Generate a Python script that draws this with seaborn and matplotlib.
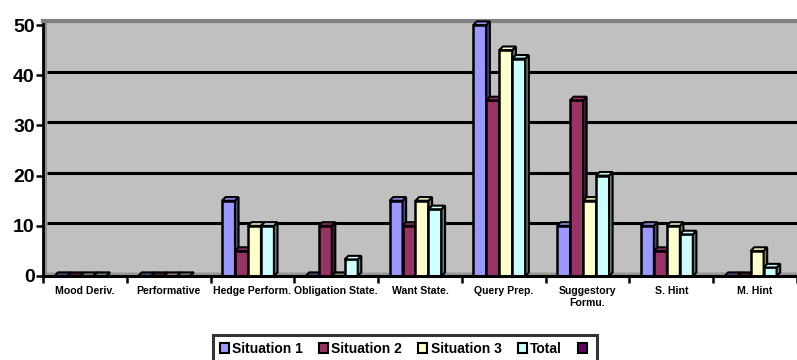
import matplotlib
matplotlib.use("Agg")
import matplotlib.pyplot as plt
import matplotlib.transforms as mtransforms
from matplotlib.patches import Polygon, Patch, Rectangle
import numpy as np
import pandas as pd
import seaborn as sns

plt.rcParams["font.family"] = ["Liberation Sans", "DejaVu Sans"]

# ---- data -------------------------------------------------------------
categories = ["Mood Deriv.", "Performative", "Hedge Perform.", "Obligation State.",
              "Want State.", "Query Prep.", "Suggestory\nFormu.", "S. Hint", "M. Hint"]
situation_1 = [0, 0, 15, 0, 15, 50, 10, 10, 0]
situation_2 = [0, 0, 5, 10, 10, 35, 35, 5, 0]
situation_3 = [0, 0, 10, 0, 15, 45, 15, 10, 5]
total = [0, 0, 10, 3.3, 13.3, 43.3, 20, 8.3, 1.7]
series_names = ["Situation 1", "Situation 2", "Situation 3", "Total"]
y_ticks = [0, 10, 20, 30, 40, 50]

face_colors = ["#9999FF", "#993366", "#FFFFCC", "#CCFFFF"]
side_colors = ["#4D4D80", "#4D1A33", "#808066", "#668080"]
extra_legend_color = "#660066"

df = pd.DataFrame({
    "category": categories * 4,
    "series": sum([[n] * len(categories) for n in series_names], []),
    "value": situation_1 + situation_2 + situation_3 + total,
})

# ---- figure -----------------------------------------------------------
W, H = 797, 360
fig = plt.figure(figsize=(W / 100, H / 100), dpi=100)
ax_left, ax_right, ax_bottom, ax_top = 43, 797, 276, 21
ax = fig.add_axes([ax_left / W, (H - ax_bottom) / H,
                   (ax_right - ax_left) / W, (ax_bottom - ax_top) / H])

px_per_unit_y = (276 - 25) / 50.0
ymax = 50 + (25 - ax_top) / px_per_unit_y
ax.set_facecolor("#C0C0C0")

sns.barplot(data=df, x="category", y="value", hue="series",
            order=categories, hue_order=series_names, palette=face_colors,
            saturation=1, width=0.62, edgecolor="black", linewidth=1.8,
            legend=False, ax=ax, errorbar=None)
ax.set_xlim(-0.5, len(categories) - 0.5)
ax.set_ylim(0, ymax)

# depth of the pseudo-3D extrusion, in data units
depth_px = 3.6
px_per_unit_x = (ax_right - ax_left) / len(categories)
dx = depth_px / px_per_unit_x
dy = depth_px / px_per_unit_y
shift = 4.5 / px_per_unit_x

for k, container in enumerate(ax.containers):
    z = 3 + k
    for bar in container:
        bar.set_x(bar.get_x() - shift)
        bar.set_zorder(z)
        x0 = bar.get_x()
        x1 = x0 + bar.get_width()
        h = bar.get_height()
        fc_top = face_colors[k] if h > 0 else side_colors[k]
        top = Polygon([(x0, h), (x0 + dx, h + dy), (x1 + dx, h + dy), (x1, h)],
                      closed=True, facecolor=fc_top, edgecolor="black",
                      linewidth=1.5, zorder=z, clip_on=False)
        side = Polygon([(x1, 0), (x1 + dx, dy), (x1 + dx, h + dy), (x1, h)],
                       closed=True, facecolor=side_colors[k], edgecolor="black",
                       linewidth=1.5, zorder=z, clip_on=False)
        ax.add_patch(side)
        ax.add_patch(top)

# walls and floor
ax.add_patch(Polygon([(-0.5, 0), (-0.5 + dx, dy), (len(categories) - 0.5 + dx, dy),
                      (len(categories) - 0.5, 0)], closed=True,
                     facecolor="#9A9A9A", edgecolor="none", zorder=1.2))
ax.add_patch(Rectangle((-0.5, 0), dx, ymax, facecolor="#8C8C8C",
                       edgecolor="none", zorder=1.2))

# gridlines on the back wall
grid_trans = ax.get_yaxis_transform() + mtransforms.ScaledTranslation(
    0, 3 / 100, fig.dpi_scale_trans)
for v in y_ticks[1:-1]:
    ax.plot([depth_px / (ax_right - ax_left), 1], [v, v], transform=grid_trans,
            color="black", linewidth=2.2, zorder=1.5, solid_capstyle="butt")

# spines
ax.spines["right"].set_visible(False)
ax.spines["top"].set_color("#808080")
ax.spines["top"].set_linewidth(3)
ax.spines["left"].set_color("black")
ax.spines["left"].set_linewidth(2)
ax.spines["bottom"].set_color("black")
ax.spines["bottom"].set_linewidth(2.2)
ax.spines["bottom"].set_zorder(10)

# axes ticks and labels
ax.set_xlabel("")
ax.set_ylabel("")
ax.set_yticks(y_ticks)
ax.set_yticklabels([str(t) for t in y_ticks], fontsize=14, fontweight="bold")
ax.tick_params(axis="y", direction="out", length=5, width=1.8, pad=1, colors="black")
ax.set_xticks(range(len(categories)))
ax.set_xticklabels(categories, fontsize=7.6, fontweight="bold", linespacing=1.3)
ax.tick_params(axis="x", which="major", length=0, pad=7)
ax.set_xticks(np.arange(-0.5, len(categories), 1), minor=True)
ax.tick_params(axis="x", which="minor", direction="out", length=5, width=1.8)

# legend
handles = [Patch(facecolor=c, edgecolor="black", linewidth=1.5) for c in face_colors]
handles.append(Patch(facecolor=extra_legend_color, edgecolor="black", linewidth=1.5))
labels = series_names + [""]
leg = fig.legend(handles, labels, loc="upper center",
                 bbox_to_anchor=(405 / W, 1 - 335 / H), ncol=5, frameon=True,
                 fancybox=False, edgecolor="black",
                 prop={"weight": "bold", "size": 10},
                 handlelength=0.65, handleheight=0.65, handletextpad=0.25,
                 columnspacing=1.15, borderpad=0.5, borderaxespad=0)
leg.get_frame().set_linewidth(2.2)

fig.savefig("out.png", dpi=100, facecolor="white")
